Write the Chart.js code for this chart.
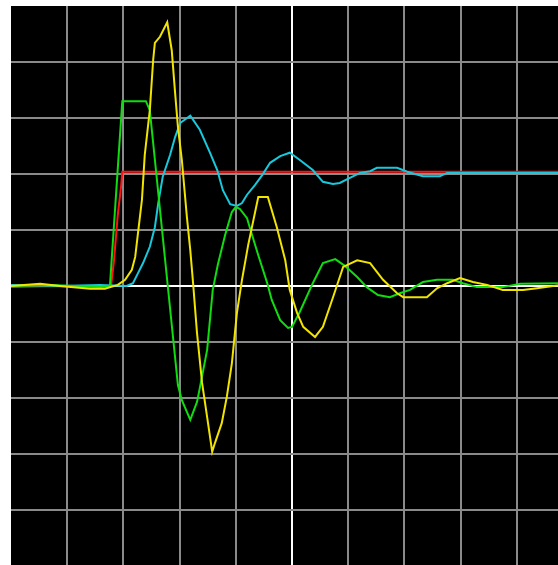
<!DOCTYPE html>
<html>
<head>
<meta charset="utf-8">
<title>Step response</title>
<script src="https://cdn.jsdelivr.net/npm/chart.js@4.4.1/dist/chart.umd.min.js"></script>
<style>
    html, body { margin: 0; padding: 0; background: #fff; overflow: hidden; width: 558px; height: 565px; }
    #scope { position: absolute; left: 11px; top: 6px; background: #000; }
</style>
</head>
<body>
<canvas id="scope" width="562" height="560"></canvas>
<script>
// time axis and amplitude axis, both in screen divisions
const xTicks = [-5, -4, -3, -2, -1, 0, 1, 2, 3, 4, 5];
const yTicks = [-5, -4, -3, -2, -1, 0, 1, 2, 3, 4, 5];

// red: setpoint step
const redT = [-5, -4.13, -3.42, -3.22, -3.17, -3.10, -3.04, -3.02, 4.8];
const redV = [-0.02, 0, -0.02, 0, 0.43, 1.27, 1.79, 2.04, 2.04];

// cyan: output
const cyanT = [-5, -4.13, -3.42, -2.94, -2.83, -2.74, -2.65, -2.53, -2.44, -2.38, -2.30, -2.17, -2.08, -1.99, -1.81,
    -1.64, -1.46, -1.33, -1.23, -1.10, -0.98, -0.89, -0.80, -0.66, -0.53, -0.39, -0.21, -0.04, 0.14, 0.37, 0.55,
    0.73, 0.85, 1.03, 1.21, 1.39, 1.51, 1.87, 2.05, 2.33, 2.63, 2.76, 4.8];
const cyanV = [0.02, 0, 0.02, 0, 0.05, 0.23, 0.41, 0.70, 1.05, 1.48, 1.95, 2.34, 2.66, 2.91, 3.04,
    2.79, 2.38, 2.07, 1.71, 1.46, 1.43, 1.48, 1.63, 1.80, 1.98, 2.20, 2.32, 2.38, 2.25, 2.07, 1.86,
    1.82, 1.84, 1.93, 2.02, 2.05, 2.11, 2.11, 2.04, 1.96, 1.96, 2.02, 2.02];

// green: first derivative
const greenT = [-5, -4.31, -3.42, -3.24, -3.02, -2.60, -2.53, -2.03, -1.96, -1.81, -1.69, -1.64, -1.51, -1.41,
    -1.32, -1.19, -1.07, -1.00, -0.93, -0.80, -0.75, -0.60, -0.44, -0.36, -0.21, -0.07, 0, 0.14, 0.37, 0.55,
    0.77, 0.94, 1.16, 1.33, 1.53, 1.74, 1.92, 2.10, 2.33, 2.58, 2.86, 3.04, 3.29, 3.52, 3.75, 4.06, 4.8];
const greenV = [0, 0.02, -0.02, 0, 3.30, 3.30, 3.14, -1.77, -2.04, -2.39, -2.07, -1.82, -1.14, -0.07,
    0.38, 0.91, 1.32, 1.41, 1.38, 1.21, 1.04, 0.55, 0.05, -0.25, -0.61, -0.75, -0.73, -0.46, 0.05, 0.41,
    0.48, 0.36, 0.16, -0.02, -0.16, -0.20, -0.13, -0.07, 0.07, 0.11, 0.11, 0.05, -0.02, -0.02, -0.02, 0.04, 0.05];

// yellow: second derivative
const yellowT = [-5, -4.48, -4.13, -3.59, -3.33, -3.10, -2.97, -2.85, -2.79, -2.74, -2.67, -2.62, -2.53, -2.47,
    -2.44, -2.35, -2.22, -2.14, -2.08, -2.03, -1.96, -1.87, -1.81, -1.76, -1.69, -1.60, -1.51, -1.42, -1.37,
    -1.25, -1.16, -1.07, -0.98, -0.89, -0.78, -0.60, -0.43, -0.27, -0.12, -0.04, 0.09, 0.20, 0.41, 0.55, 0.73,
    0.91, 1.16, 1.39, 1.62, 1.87, 1.98, 2.40, 2.58, 2.76, 2.99, 3.22, 3.47, 3.75, 4.11, 4.36, 4.8];
const yellowV = [0, 0.04, 0, -0.05, -0.05, 0.02, 0.11, 0.29, 0.52, 0.95, 1.54, 2.34, 3.14, 4.04,
    4.34, 4.45, 4.71, 4.21, 3.45, 2.84, 2.25, 1.23, 0.64, 0.05, -0.84, -1.73, -2.34, -2.96, -2.80,
    -2.45, -1.98, -1.38, -0.48, 0.11, 0.73, 1.59, 1.59, 1.05, 0.46, -0.07, -0.48, -0.73, -0.91, -0.73, -0.20,
    0.34, 0.46, 0.41, 0.11, -0.13, -0.20, -0.20, -0.04, 0.05, 0.14, 0.07, 0.02, -0.07, -0.07, -0.04, 0.02];

function toPoints(t, v) {
    return t.map((x, i) => ({ x: x, y: v[i] }));
}

function trace(data, color) {
    return {
        data: data,
        borderColor: color,
        borderWidth: 2,
        pointRadius: 0,
        tension: 0,
        fill: false
    };
}

// white centre lines, gray grid, nothing on the outer border
function gridColor(ctx) {
    const v = ctx.tick ? ctx.tick.value : 0;
    if (v === 0) return '#ffffff';
    if (Math.abs(v) === 5) return 'rgba(0,0,0,0)';
    return '#8a8a8a';
}

function axis(ticks) {
    return {
        type: 'linear',
        min: ticks[0],
        max: ticks[ticks.length - 1],
        afterBuildTicks: (scale) => { scale.ticks = ticks.map(v => ({ value: v })); },
        ticks: { display: false },
        grid: { color: gridColor, lineWidth: 2, drawTicks: false },
        border: { display: false }
    };
}

const ctx = document.getElementById('scope').getContext('2d');
new Chart(ctx, {
    type: 'line',
    data: {
        datasets: [
            trace(toPoints(yellowT, yellowV), '#f0e400'),
            trace(toPoints(greenT, greenV), '#10dc10'),
            trace(toPoints(cyanT, cyanV), '#18c8dc'),
            trace(toPoints(redT, redV), '#ff1414')
        ]
    },
    options: {
        responsive: false,
        animation: false,
        layout: { padding: 0 },
        plugins: { legend: { display: false }, tooltip: { enabled: false } },
        scales: {
            x: axis(xTicks),
            y: axis(yTicks)
        }
    }
});
</script>
</body>
</html>
